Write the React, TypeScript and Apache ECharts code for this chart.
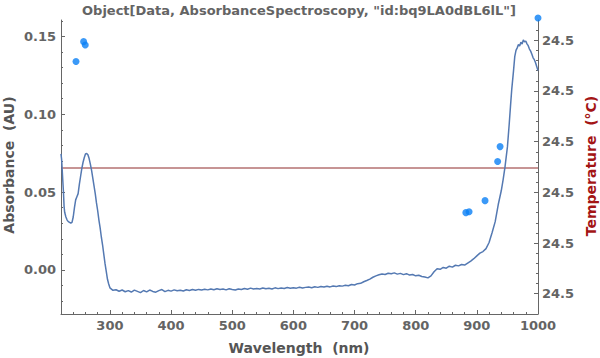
import React, { useEffect, useRef } from "react";
import * as echarts from "echarts";

// Absorbance spectrum (wavelength nm, absorbance AU)
const wavelength: number[] = [
  220, 221, 222, 223, 224, 225, 226, 228, 230, 232, 234, 236, 238, 240, 242, 244, 246, 248, 250, 252,
  254, 256, 258, 260, 262, 264, 266, 268, 270, 272, 274, 276, 278, 280, 282, 284, 286, 288, 290, 292,
  294, 296, 298,
  300, 305, 310, 315, 320, 325, 330, 335, 340, 345, 350, 355, 360, 365, 370, 375, 380, 385, 390, 395,
  400, 405, 410, 415, 420, 425, 430, 435, 440, 445, 450, 455, 460, 465, 470, 475, 480, 485, 490, 495,
  500, 505, 510, 515, 520, 525, 530, 535, 540, 545, 550, 555, 560, 565, 570, 575, 580, 585, 590, 595,
  600, 605, 610, 615, 620, 625, 630, 635, 640, 645, 650, 655, 660, 665, 670, 675, 680, 685, 690, 695,
  700, 705, 710, 715, 720, 725, 730, 735, 740, 745, 750, 755, 760, 765, 770, 775, 780, 785, 790, 795,
  800, 805, 810, 815, 820, 825, 830, 835, 840, 845, 850, 855, 860, 865, 870, 875, 880, 885, 890, 895,
  900, 905, 910, 915, 920, 925, 930, 935, 940, 943, 946, 950, 953, 955, 957, 960, 962, 964, 966, 968,
  970, 972, 974, 976, 978, 980, 982, 984, 986, 988, 990, 992, 994, 996, 998, 1000,
];
const absorbance: number[] = [
  0.0745, 0.071, 0.064, 0.057, 0.05, 0.041, 0.037, 0.034, 0.032, 0.031, 0.0305, 0.03, 0.0305, 0.034, 0.04, 0.045, 0.047, 0.049, 0.055, 0.06,
  0.065, 0.069, 0.072, 0.0745, 0.0748, 0.074, 0.0715, 0.068, 0.064, 0.059, 0.054, 0.049, 0.043, 0.038, 0.032, 0.027, 0.021, 0.016, 0.01, 0.004,
  -0.001, -0.006, -0.009,
  -0.0115, -0.0131, -0.0127, -0.0137, -0.0129, -0.014, -0.0133, -0.0142, -0.013, -0.0138, -0.0146, -0.0132, -0.0141, -0.0129, -0.0138, -0.0143, -0.0133, -0.0126, -0.0139, -0.0131,
  -0.0136, -0.0128, -0.0134, -0.013, -0.0135, -0.0127, -0.0132, -0.0126, -0.0131, -0.0125, -0.0129, -0.0124, -0.0128, -0.0122, -0.0127, -0.0121, -0.0125, -0.0123, -0.0128, -0.0121,
  -0.0126, -0.0129, -0.0122, -0.0126, -0.0119, -0.0124, -0.0117, -0.0123, -0.0119, -0.0122, -0.0116, -0.0121, -0.0118, -0.0122, -0.0115, -0.012, -0.0116, -0.0119, -0.0113, -0.0118,
  -0.0114, -0.0117, -0.0111, -0.0116, -0.0112, -0.0109, -0.0114, -0.0108, -0.0112, -0.0106, -0.011, -0.0105, -0.0109, -0.0103, -0.0107, -0.0101, -0.0104, -0.0099, -0.0102, -0.0094,
  -0.0097, -0.0088, -0.0086, -0.0076, -0.0068, -0.0059, -0.0047, -0.0038, -0.0031, -0.0026, -0.0029, -0.0021, -0.0025, -0.0019, -0.0027, -0.0022, -0.003, -0.0024, -0.0033, -0.0029,
  -0.0038, -0.0034, -0.0042, -0.0046, -0.0051, -0.0038, -0.0012, 0.0008, 0.0004, 0.0016, 0.0011, 0.0024, 0.0018, 0.003, 0.0026, 0.0035, 0.0031, 0.0044, 0.0057, 0.0072,
  0.009, 0.0108, 0.0118, 0.0137, 0.0176, 0.024, 0.031, 0.042, 0.051, 0.058, 0.066, 0.079, 0.094, 0.105, 0.1156, 0.128, 0.137, 0.141, 0.1426, 0.1448,
  0.1438, 0.1462, 0.1451, 0.1477, 0.1465, 0.147, 0.1452, 0.144, 0.1418, 0.1405, 0.1385, 0.1362, 0.135, 0.133, 0.1305, 0.128,
];

// Separate point measurements
const pointWavelength: number[] = [244.5, 257, 259.7, 882, 887.3, 913.4, 934, 938, 1000];
const pointAbsorbance: number[] = [0.1338, 0.1466, 0.1445, 0.0368, 0.0374, 0.0445, 0.0696, 0.0792, 0.1618];

// Temperature (constant)
const temperatureWavelength: number[] = [220, 1000];
const temperature: number[] = [24.500048, 24.500048];

// Ticks
const xMajorTicks: number[] = [300, 400, 500, 600, 700, 800, 900, 1000];
const xMinorTicks: number[] = [240, 260, 280, 320, 340, 360, 380, 420, 440, 460, 480, 520, 540, 560, 580, 620, 640, 660, 680, 720, 740, 760, 780, 820, 840, 860, 880, 920, 940, 960, 980];
const yMajorTicks: number[] = [0, 0.05, 0.1, 0.15];
const yMinorTicks: number[] = [-0.02, -0.01, 0.01, 0.02, 0.03, 0.04, 0.06, 0.07, 0.08, 0.09, 0.11, 0.12, 0.13, 0.14, 0.16];
const tMajorTicks: number[] = [24.4998, 24.4999, 24.5, 24.5001, 24.5002, 24.5003];
const tMinorTicks: number[] = [
  24.49982, 24.49984, 24.49986, 24.49988, 24.49992, 24.49994, 24.49996, 24.49998,
  24.50002, 24.50004, 24.50006, 24.50008, 24.50012, 24.50014, 24.50016, 24.50018,
  24.50022, 24.50024, 24.50026, 24.50028, 24.50032,
];

const X_MIN = 220;
const X_MAX = 1000;
const Y_MIN = -0.0283;
const Y_MAX = 0.1605;
const T_MIN = 24.49976;
const T_MAX = 24.50034;

const FONT = "DejaVu Sans";
const AXIS_COLOR = "#666666";
const LABEL_COLOR = "#646464";

export default function App() {
  const ref = useRef<HTMLDivElement>(null);
  useEffect(() => {
    if (!ref.current) return;
    const chart = echarts.init(ref.current, null, { renderer: "svg" });
    const lineStyle = { color: AXIS_COLOR, width: 1 };
    const labelStyle = { color: LABEL_COLOR, fontFamily: FONT, fontWeight: "bold" as const, fontSize: 13 };
    chart.setOption({
      animation: false,
      grid: { left: 61, right: 62, top: 20, bottom: 44, containLabel: false },
      graphic: [
        {
          type: "text",
          x: 299,
          y: 10,
          style: {
            text: 'Object[Data, AbsorbanceSpectroscopy, "id:bq9LA0dBL6lL"]',
            fill: LABEL_COLOR,
            font: `bold 13px "${FONT}"`,
            textAlign: "center",
            textVerticalAlign: "middle",
          },
        },
        {
          type: "text",
          x: 9,
          y: 165,
          rotation: Math.PI / 2,
          style: {
            text: "Absorbance  (AU)",
            fill: "#555555",
            font: `bold 14px "${FONT}"`,
            textAlign: "center",
            textVerticalAlign: "middle",
          },
        },
        {
          type: "text",
          x: 591,
          y: 166,
          rotation: Math.PI / 2,
          style: {
            text: "Temperature  (°C)",
            fill: "#a31515",
            font: `bold 14px "${FONT}"`,
            textAlign: "center",
            textVerticalAlign: "middle",
          },
        },
        {
          type: "text",
          x: 299,
          y: 348,
          style: {
            text: "Wavelength  (nm)",
            fill: "#555555",
            font: `bold 14px "${FONT}"`,
            textAlign: "center",
            textVerticalAlign: "middle",
          },
        },
      ],
      xAxis: [
        {
          type: "value",
          min: X_MIN,
          max: X_MAX,
          position: "bottom",
          axisLine: { show: true, onZero: false, lineStyle },
          axisTick: { show: true, inside: true, length: 4, lineStyle, customValues: xMajorTicks },
          axisLabel: { ...labelStyle, margin: 5, customValues: xMajorTicks, formatter: (v: number) => String(v) },
          splitLine: { show: false },
        },
        {
          type: "value",
          min: X_MIN,
          max: X_MAX,
          position: "bottom",
          axisLine: { show: false, onZero: false },
          axisTick: { show: true, inside: true, length: 2, lineStyle, customValues: xMinorTicks },
          axisLabel: { show: false },
          splitLine: { show: false },
        },
      ],
      yAxis: [
        {
          type: "value",
          min: Y_MIN,
          max: Y_MAX,
          position: "left",
          axisLine: { show: true, onZero: false, lineStyle },
          axisTick: { show: true, inside: true, length: 4, lineStyle, customValues: yMajorTicks },
          axisLabel: { ...labelStyle, margin: 5, customValues: yMajorTicks, formatter: (v: number) => v.toFixed(2) },
          splitLine: { show: false },
        },
        {
          type: "value",
          min: T_MIN,
          max: T_MAX,
          position: "right",
          axisLine: { show: true, onZero: false, lineStyle },
          axisTick: { show: true, inside: true, length: 4, lineStyle, customValues: tMajorTicks },
          axisLabel: { ...labelStyle, margin: 4, customValues: tMajorTicks, formatter: (v: number) => v.toFixed(1) },
          splitLine: { show: false },
        },
        {
          type: "value",
          min: Y_MIN,
          max: Y_MAX,
          position: "left",
          axisLine: { show: false, onZero: false },
          axisTick: { show: true, inside: true, length: 2, lineStyle, customValues: yMinorTicks },
          axisLabel: { show: false },
          splitLine: { show: false },
        },
        {
          type: "value",
          min: T_MIN,
          max: T_MAX,
          position: "right",
          axisLine: { show: false, onZero: false },
          axisTick: { show: true, inside: true, length: 2, lineStyle, customValues: tMinorTicks },
          axisLabel: { show: false },
          splitLine: { show: false },
        },
      ],
      series: [
        {
          type: "line",
          name: "Absorbance",
          xAxisIndex: 0,
          yAxisIndex: 0,
          data: wavelength.map((w, i) => [w, absorbance[i]]),
          showSymbol: false,
          lineStyle: { color: "#5479b2", width: 1.5 },
          clip: true,
          z: 3,
        },
        {
          type: "line",
          name: "Temperature",
          xAxisIndex: 0,
          yAxisIndex: 1,
          data: temperatureWavelength.map((w, i) => [w, temperature[i]]),
          showSymbol: false,
          lineStyle: { color: "#8e2a2a", width: 1 },
          z: 2,
        },
        {
          type: "scatter",
          name: "Points",
          xAxisIndex: 0,
          yAxisIndex: 0,
          data: pointWavelength.map((w, i) => [w, pointAbsorbance[i]]),
          symbolSize: 7,
          itemStyle: { color: "#0a80f5" },
          clip: false,
          z: 4,
        },
      ],
    });
    return () => chart.dispose();
  }, []);
  return <div ref={ref} style={{ width: 600, height: 358, position: "absolute", left: 0, top: 0 }} />;
}
